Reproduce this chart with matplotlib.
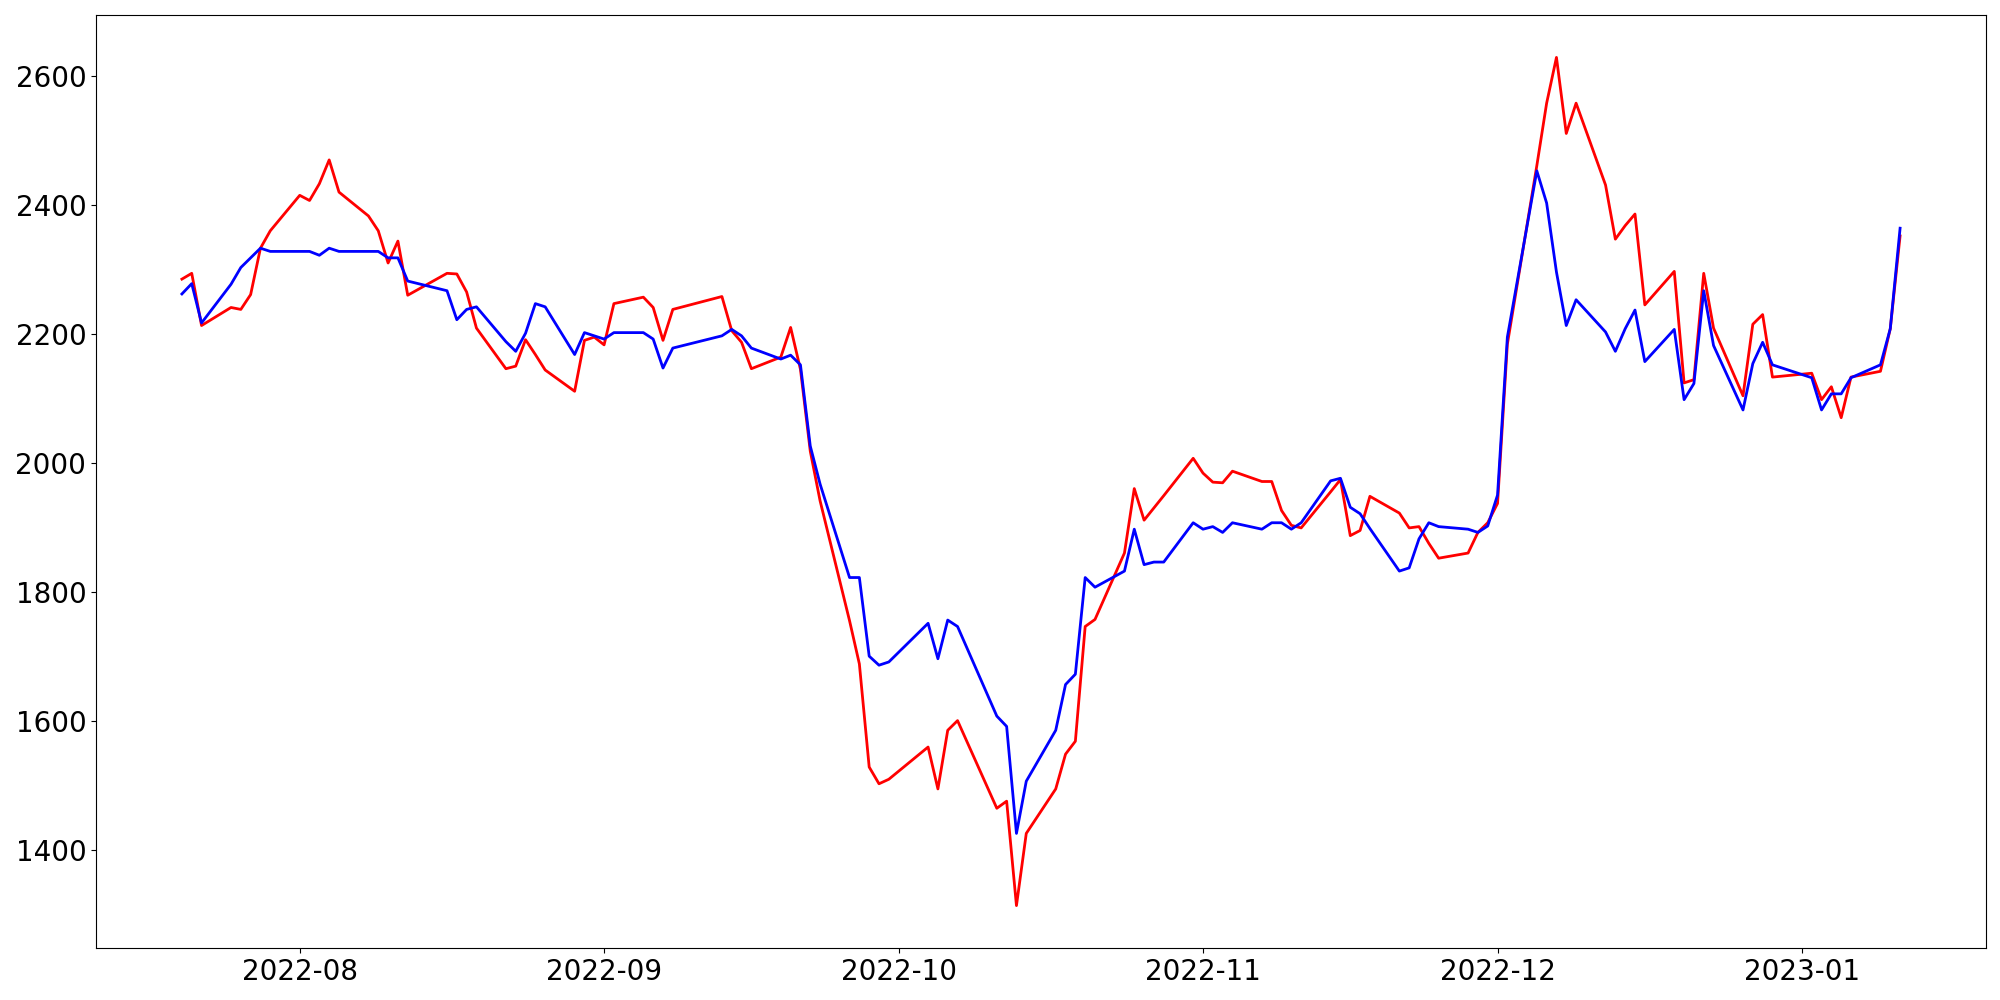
import pandas as pd
import matplotlib
matplotlib.use('Agg')
import matplotlib.pyplot as plt

# trading days (weekdays minus market holidays)
holidays = ['2022-08-15', '2022-09-09', '2022-09-12', '2022-10-03',
            '2022-10-10', '2022-12-30']
dates = pd.bdate_range('2022-07-20', '2023-01-11', freq='C', holidays=holidays)

red_vals = [
    2285, 2294, 2213, 2241, 2238, 2261, 2333, 2360,
    2415, 2407, 2433, 2470, 2420,
    2383, 2360, 2310, 2344, 2260,
    2294, 2293, 2265, 2209,
    2146, 2150, 2191, 2168, 2144,
    2111, 2190, 2195,
    2183, 2247,
    2257, 2241, 2190, 2238,
    2258, 2205, 2187, 2146,
    2164, 2210, 2145, 2018, 1941,
    1755, 1688, 1528, 1502, 1509,
    1559, 1494, 1585, 1600,
    1464, 1475, 1313, 1425,
    1494, 1548, 1568, 1746, 1757,
    1860, 1960, 1911, 1930, 1949,
    2007,
    1984, 1970, 1969, 1987,
    1971, 1971, 1926, 1903, 1899,
    1955, 1974, 1887, 1895, 1948,
    1922, 1899, 1901, 1875, 1852,
    1860, 1892, 1907,
    1937, 2184,
    2461, 2558, 2629, 2511, 2558,
    2431, 2347, 2368, 2386, 2245,
    2297, 2124, 2129, 2294, 2209,
    2104, 2215, 2230, 2133,
    2139, 2098, 2118, 2070, 2133,
    2142, 2208, 2352,
]

blue_vals = [
    2262, 2278, 2217, 2277, 2303, 2318, 2333, 2328,
    2328, 2328, 2322, 2333, 2328,
    2328, 2328, 2318, 2318, 2282,
    2267, 2222, 2238, 2242,
    2188, 2173, 2201, 2247, 2242,
    2168, 2202, 2197,
    2192, 2202,
    2202, 2192, 2147, 2178,
    2197, 2207, 2197, 2178,
    2161, 2167, 2152, 2026, 1967,
    1822, 1822, 1700, 1686, 1691,
    1751, 1696, 1756, 1746,
    1607, 1591, 1425, 1506,
    1585, 1656, 1672, 1822, 1807,
    1832, 1897, 1842, 1846, 1846,
    1907,
    1897, 1901, 1892, 1907,
    1897, 1907, 1907, 1897, 1907,
    1972, 1976, 1931, 1921, 1898,
    1832, 1837, 1882, 1907, 1901,
    1897, 1892, 1902,
    1950, 2195,
    2453, 2403, 2296, 2213, 2253,
    2203, 2173, 2208, 2237, 2157,
    2207, 2098, 2123, 2267, 2182,
    2082, 2154, 2187, 2152,
    2132, 2082, 2107, 2107, 2132,
    2152, 2208, 2364,
]

fig = plt.figure(figsize=(20, 10), dpi=100)
ax = fig.add_axes([0.048, 0.052, 0.945, 0.933])

ax.plot(dates, red_vals, color='red', linewidth=2)
ax.plot(dates, blue_vals, color='blue', linewidth=2)

ax.tick_params(labelsize=20)

fig.savefig('out.png', dpi=100)
